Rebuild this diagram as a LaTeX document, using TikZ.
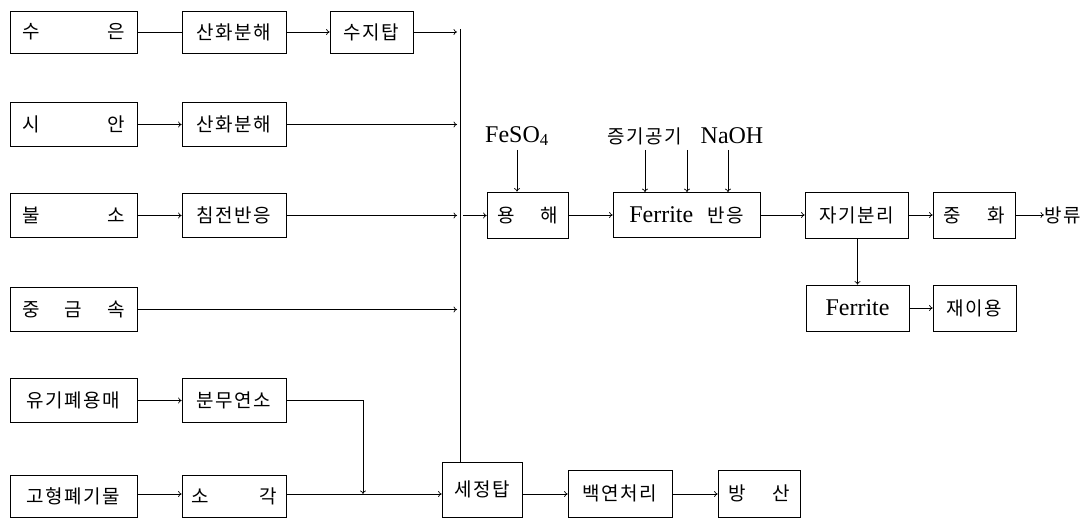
\documentclass[tikz,border=0pt]{standalone}
\usepackage{fontspec}
\newfontfamily\kr[LetterSpace=8]{Noto Sans CJK KR}
\newfontfamily\lt{Liberation Serif}
\usetikzlibrary{arrows.meta}
\begin{document}
\begin{tikzpicture}[x=1pt,y=-1pt,
  box/.style={draw,line width=0.7pt,inner sep=0pt,font=\fontsize{19}{21}\selectfont\kr},
  lbl/.style={inner sep=0pt,font=\fontsize{19}{21}\selectfont\kr},
  lat/.style={inner sep=0pt,font=\fontsize{24}{26}\selectfont\lt},
  ln/.style={line width=0.7pt},
  ar/.style={line width=0.7pt,-{To[length=3.5pt,width=6pt]}}]
\useasboundingbox (0,0) rectangle (1085,518);
% column 1
\node[box,minimum width=127,minimum height=42] (suen) at (73.5,32) {\makebox[102pt][s]{수\hfill 은}};
\node[box,minimum width=127,minimum height=44] (sian) at (73.5,124.5) {\makebox[102pt][s]{시\hfill 안}};
\node[box,minimum width=127,minimum height=44] (bulso) at (73.5,215.5) {\makebox[102pt][s]{불\hfill 소}};
\node[box,minimum width=127,minimum height=44] (jung) at (73.5,309.5) {\makebox[102pt][s]{중\hfill 금\hfill 속}};
\node[box,minimum width=127,minimum height=44] (yugi) at (73.5,400.5) {유기폐용매};
\node[box,minimum width=127,minimum height=42] (gohy) at (73.5,496) {고형폐기물};
% column 2
\node[box,minimum width=104,minimum height=42] (sanhwa1) at (234,32) {산화분해};
\node[box,minimum width=83,minimum height=42] (suji) at (371.5,32) {수지탑};
\node[box,minimum width=104,minimum height=44] (sanhwa2) at (234,124.5) {산화분해};
\node[box,minimum width=104,minimum height=44] (chim) at (234,215.5) {침전반응};
\node[box,minimum width=104,minimum height=44] (bunmu) at (234,400.5) {분무연소};
\node[box,minimum width=104,minimum height=42] (sogak) at (234,496) {\makebox[86pt][s]{소\hfill 각}};
% main line
\node[box,minimum width=81,minimum height=46] (yong) at (527.5,215) {\makebox[60pt][s]{용\hfill 해}};
\node[box,minimum width=147,minimum height=45] (ferr) at (686.5,215) {{\fontsize{24}{26}\selectfont\lt Ferrite}\hspace{14pt}반응};
\node[box,minimum width=103,minimum height=46] (jagi) at (856.5,215) {자기분리};
\node[box,minimum width=82,minimum height=46] (junghwa) at (974,215) {\makebox[62pt][s]{중\hfill 화}};
\node[lbl,anchor=west] (bangryu) at (1044,215) {방류};
\node[box,minimum width=103,minimum height=46,font=\fontsize{24}{26}\selectfont\lt] (ferrite) at (857.5,308) {Ferrite};
\node[box,minimum width=83,minimum height=46] (jae) at (974.5,308) {재이용};
% bottom line
\node[box,minimum width=80,minimum height=55] (sejeong) at (482,489.5) {세정탑};
\node[box,minimum width=104,minimum height=47] (baek) at (620,493.5) {백연처리};
\node[box,minimum width=82,minimum height=47] (bangsan) at (759,493.5) {\makebox[62pt][s]{방\hfill 산}};
% reagent labels
\node[lat] (feso) at (517,136) {FeSO\textsubscript{4}};
\node[lbl] (jeunggi) at (645,136) {증기공기};
\node[lat] (naoh) at (732,136) {NaOH};
% bus
\coordinate (bustop) at (460,29);
\draw[ln] (bustop) -- (bustop |- sejeong.north);
% row 1
\draw[ln] (suen) -- (sanhwa1);
\draw[ar] (sanhwa1) -- (suji);
\draw[ar] (suji.east) -- ([xshift=-3pt]bustop |- suji.east);
% row 2
\draw[ar] (sian) -- (sanhwa2);
\draw[ar] (sanhwa2.east) -- ([xshift=-3pt]bustop |- sanhwa2.east);
% row 3
\draw[ar] (bulso) -- (chim);
\draw[ar] (chim.east) -- ([xshift=-3pt]bustop |- chim.east);
\draw[ar] ([xshift=3pt]bustop |- chim.east) -- (yong.west |- chim.east);
% row 4
\draw[ar] (jung.east) -- ([xshift=-3pt]bustop |- jung.east);
% row 5 / 6
\draw[ar] (yugi) -- (bunmu);
\coordinate (bend) at (363,400.5);
\draw[ar] (bunmu.east) -- (bend) -- (bend |- 0,494);
\draw[ar] (gohy.east |- 0,494) -- (sogak.west |- 0,494);
\draw[ar] (sogak.east |- 0,494) -- (sejeong.west |- 0,494);
\draw[ar] (sejeong.east |- 0,494) -- (baek.west |- 0,494);
\draw[ar] (baek.east |- 0,494) -- (bangsan.west |- 0,494);
% main process
\draw[ar] (feso.south |- 0,150) -- (feso.south |- yong.north);
\draw[ar] (645,150) -- (645,0 |- ferr.north);
\draw[ar] (687,150) -- (687,0 |- ferr.north);
\draw[ar] (728,150) -- (728,0 |- ferr.north);
\draw[ar] (yong) -- (ferr);
\draw[ar] (ferr) -- (jagi);
\draw[ar] (jagi) -- (junghwa);
\draw[ar] (junghwa) -- (bangryu);
\draw[ar] (jagi.south -| ferrite.north) -- (ferrite.north);
\draw[ar] (ferrite) -- (jae);
\end{tikzpicture}
\end{document}
